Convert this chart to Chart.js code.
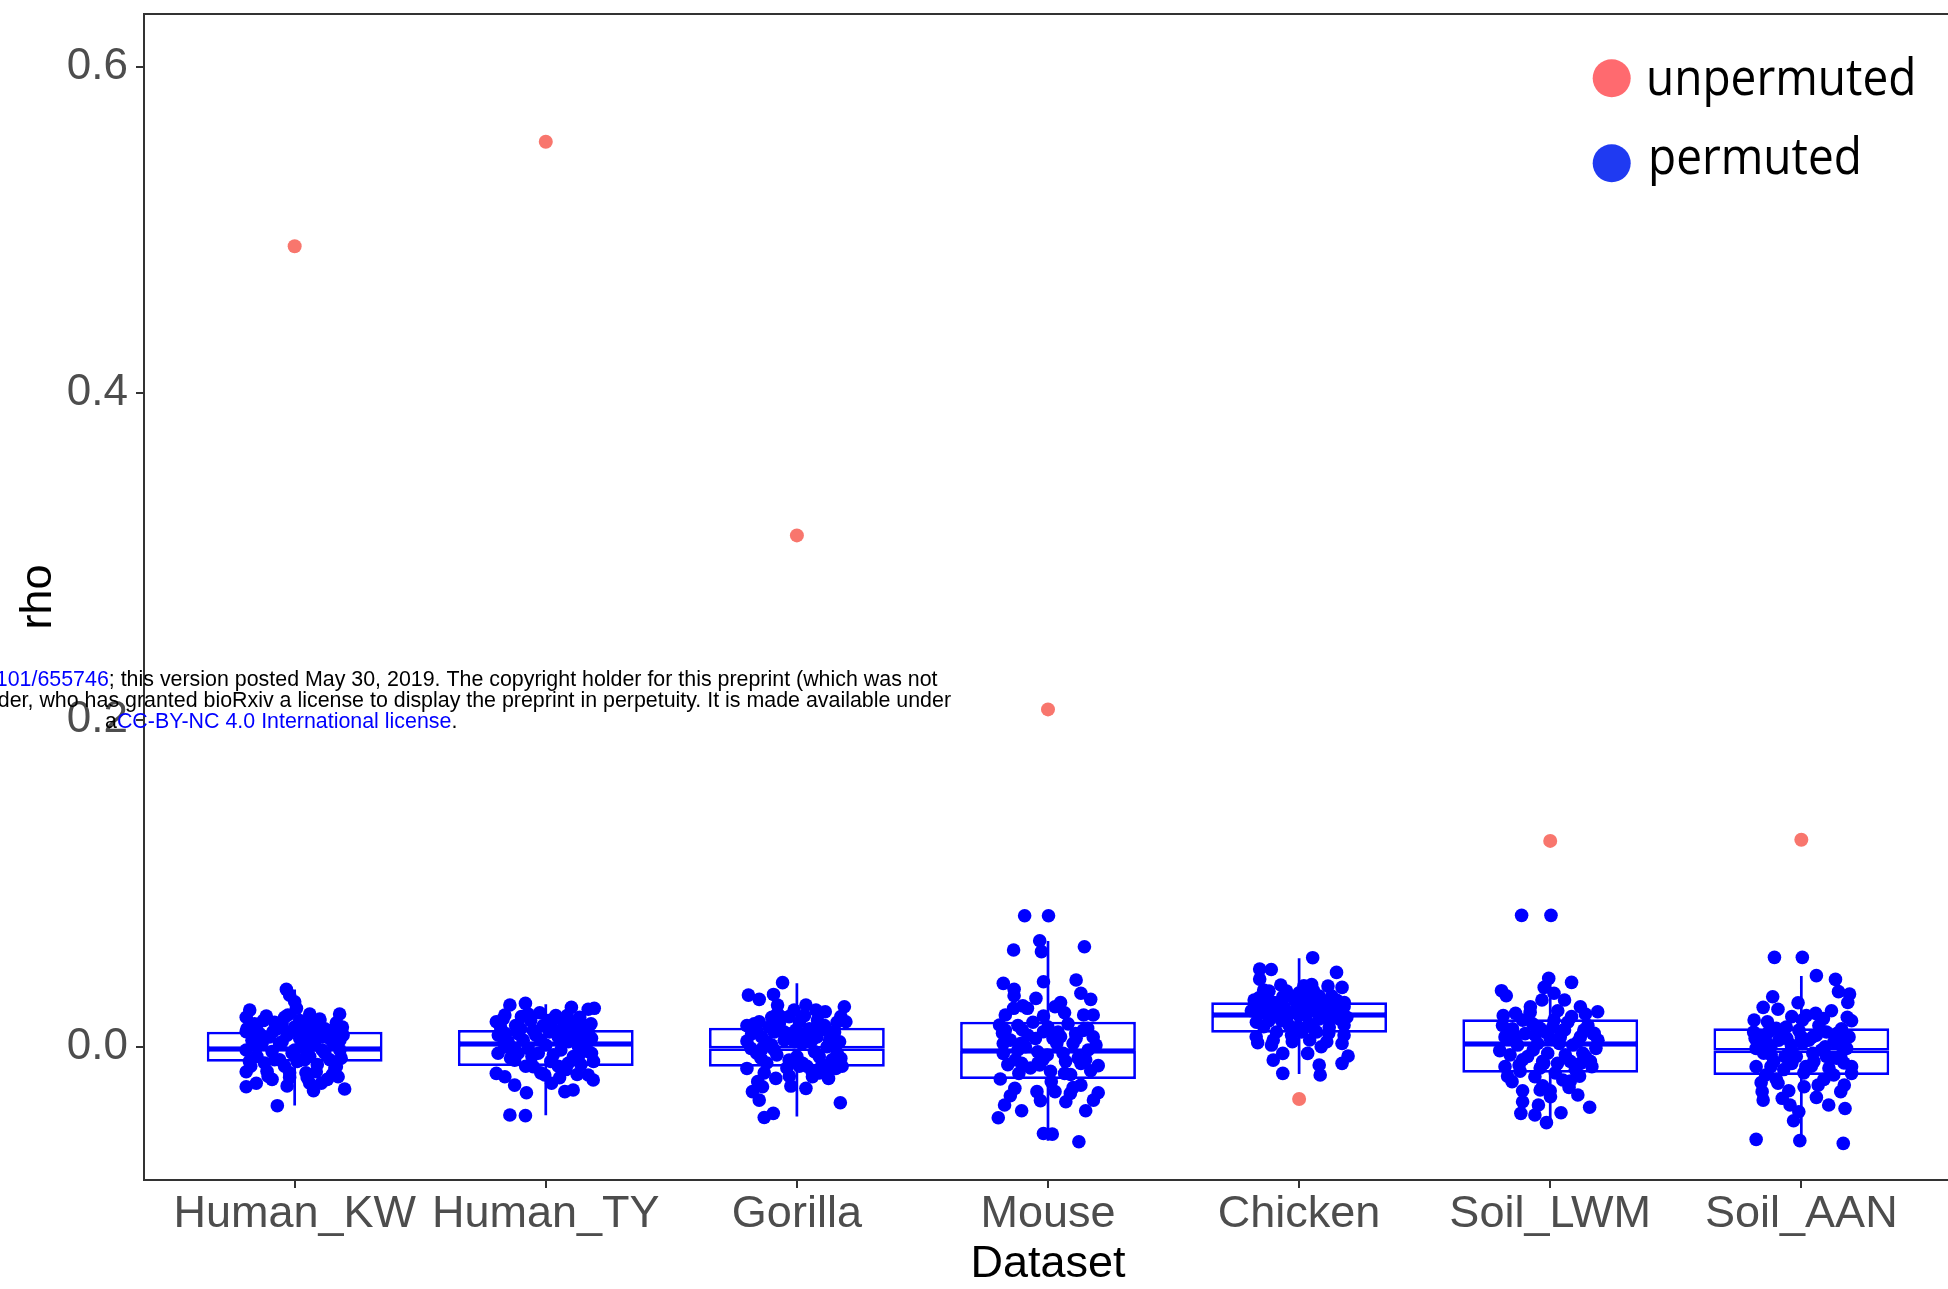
<!DOCTYPE html>
<html>
<head>
<meta charset="utf-8">
<script src="https://cdn.jsdelivr.net/npm/chart.js@4/dist/chart.umd.min.js"></script>
<style>
  html, body { margin: 0; padding: 0; background: #ffffff; overflow: hidden; }
  #rhoChart { display: block; width: 1952px; height: 1289px; }
</style>
</head>
<body>
<canvas id="rhoChart" width="1952" height="1289"></canvas>
<script>
// ---- data ----
const categories = ['Human_KW', 'Human_TY', 'Gorilla', 'Mouse', 'Chicken', 'Soil_LWM', 'Soil_AAN'];
const yTickValues = [0, 0.2, 0.4, 0.6];

// observed (unpermuted) correlation per dataset
const unpermutedRho = [0.490, 0.554, 0.313, 0.2065, -0.032, 0.126, 0.1267];

// box summaries of the permuted correlations
const boxQ1       = [-0.0092, -0.0118, -0.0122, -0.0198, 0.0086, -0.0159, -0.0173];
const boxMedian   = [-0.0014,  0.0017, -0.0010, -0.0026, 0.0194,  0.0017, -0.0024];
const boxQ3       = [ 0.0092,  0.0102,  0.0116,  0.0153, 0.0272,  0.0168,  0.0113];
const whiskerLow  = [-0.0360, -0.0420, -0.0428, -0.0575, -0.0167, -0.0465, -0.0540];
const whiskerHigh = [ 0.0350,  0.0260,  0.0388,  0.0647, 0.0541,  0.0419,  0.0433];

// permuted correlations: [jitter offset, rho]
const permHumanKW = [
  [-0.033,0.0351],[-0.02,0.0316],[0.0,0.0275],[0.007,0.0235],[-0.027,0.0194],[-0.179,0.0224],[-0.193,0.018],
  [-0.113,0.0188],[0.179,0.02],[0.166,0.0147],[0.1,0.016],[0.066,0.0143],[-0.193,0.0092],[-0.153,0.0112],
  [-0.086,0.0092],[0.193,0.0071],[-0.193,-0.002],[-0.193,-0.0153],[-0.193,-0.0245],[-0.153,-0.0224],
  [-0.106,-0.018],[-0.02,-0.0188],[0.06,-0.0224],[0.106,-0.0224],[0.173,-0.0184],[0.199,-0.0259],
  [-0.069,-0.0361],[0.166,-0.0122],[0.086,-0.0153],[0.02,-0.0082],
  [-0.17,0.004],[-0.15,-0.006],[-0.13,0.002],[-0.12,-0.01],[-0.1,0.006],[-0.09,-0.003],[-0.07,0.011],
  [-0.06,-0.008],[-0.05,0.003],[-0.04,-0.012],[-0.03,0.007],[-0.01,-0.004],[0.0,0.012],[0.01,-0.009],
  [0.03,0.004],[0.04,-0.001],[0.05,0.009],[0.06,-0.006],[0.07,0.013],[0.08,0.001],[0.09,-0.011],
  [0.11,0.006],[0.12,-0.004],[0.13,0.01],[0.14,-0.008],[0.15,0.003],[0.16,-0.013],[0.17,0.008],
  [0.18,-0.002],[0.19,0.012],[-0.19,0.011],[-0.18,-0.009],[-0.16,0.014],[-0.11,-0.015],[-0.08,0.015],
  [0.02,0.016],[0.1,0.017],[0.15,-0.017],[-0.02,-0.016],[0.05,-0.019],
  [-0.14,0.008],[-0.05,0.014],[0.035,0.012],[0.12,0.011],[0.185,-0.007],[-0.175,-0.012],[-0.09,-0.02],
  [0.045,-0.016],[0.13,-0.02],[-0.03,-0.024],[0.075,-0.027],[-0.125,0.016],
  [-0.15,0.0],[-0.12,0.006],[-0.08,-0.008],[-0.06,0.002],[-0.02,0.009],[0.0,-0.002],[0.02,0.005],
  [0.04,-0.008],[0.07,0.004],[0.09,0.008],[0.11,-0.002],[0.14,0.005],[0.16,0.009],[-0.17,0.009],
  [0.18,0.004],[-0.04,0.018],[0.06,0.02]
];
const permHumanTY = [
  [-0.143,0.0255],[-0.081,0.0265],[-0.024,0.0208],[0.102,0.0241],[0.169,0.0229],[0.193,0.0235],
  [-0.197,0.0153],[-0.163,0.0194],[-0.097,0.0184],[0.023,0.0122],[0.076,0.0153],[0.142,0.0143],
  [-0.189,0.0071],[-0.11,0.0092],[0.182,0.0051],[-0.163,0.0],[-0.11,-0.004],[0.182,-0.004],
  [-0.124,-0.0082],[-0.197,-0.0163],[-0.163,-0.0184],[-0.124,-0.0235],[-0.077,-0.0282],[-0.05,-0.0122],
  [-0.004,-0.0173],[0.023,-0.0224],[0.076,-0.0275],[0.109,-0.0265],[0.169,-0.0173],[0.189,-0.0204],
  [0.089,-0.0102],[-0.143,-0.0418],[-0.081,-0.0422],
  [-0.18,0.012],[-0.15,0.003],[-0.14,-0.007],[-0.12,0.013],[-0.09,0.004],[-0.08,-0.012],[-0.06,0.016],
  [-0.04,0.007],[-0.03,-0.004],[-0.01,0.013],[0.0,0.001],[0.02,-0.009],[0.03,0.017],[0.05,0.006],
  [0.06,-0.002],[0.07,0.012],[0.08,-0.014],[0.09,0.003],[0.1,0.015],[0.11,-0.006],[0.12,0.009],
  [0.13,0.0],[0.14,-0.011],[0.15,0.011],[0.16,0.004],[0.17,-0.003],[0.18,0.014],[0.19,-0.009],
  [-0.19,-0.004],[-0.17,0.017],[-0.11,0.008],[-0.07,0.02],[-0.02,-0.016],[0.04,0.019],[0.085,0.019],
  [0.125,-0.017],[-0.055,-0.006],[0.015,0.009],[0.055,-0.019],[0.135,0.018],[-0.16,0.008],[-0.125,-0.001],
  [-0.17,0.006],[-0.13,-0.003],[-0.1,0.011],[-0.05,0.01],[-0.02,0.004],[0.01,0.016],[0.03,-0.005],
  [0.06,0.01],[0.09,0.008],[0.12,0.004],[0.15,0.006],[0.17,0.009],[0.13,-0.006],[-0.07,-0.001],[0.05,-0.012]
];
const permGorilla = [
  [-0.057,0.0392],[-0.193,0.0316],[-0.15,0.029],[-0.093,0.032],[-0.077,0.0255],[-0.077,0.0204],
  [-0.011,0.0224],[0.036,0.0255],[0.076,0.0224],[0.113,0.0214],[0.189,0.0245],[0.175,0.0184],
  [0.195,0.0153],[0.082,0.0163],[-0.031,0.0184],[-0.15,0.0153],[-0.199,0.0129],[-0.199,0.0035],
  [-0.183,-0.001],[-0.137,-0.001],[-0.004,0.0102],[0.049,0.0041],[0.129,0.0092],[0.155,0.001],
  [0.175,-0.0071],[0.155,-0.0133],[-0.143,-0.0071],[-0.199,-0.0133],[-0.084,-0.0194],[-0.156,-0.0214],
  [-0.137,-0.0245],[-0.177,-0.0275],[-0.15,-0.0327],[-0.024,-0.0241],[0.036,-0.0255],[0.062,-0.0184],
  [0.126,-0.0194],[0.173,-0.0343],[-0.13,-0.0433],[-0.094,-0.0408],[-0.031,-0.0082],[0.023,-0.0102],
  [0.089,-0.0061],
  [-0.18,0.008],[-0.16,-0.004],[-0.14,0.006],[-0.12,-0.01],[-0.11,0.012],[-0.1,0.001],[-0.08,-0.005],
  [-0.07,0.014],[-0.05,0.004],[-0.04,-0.013],[-0.02,0.008],[0.0,-0.006],[0.01,0.015],[0.02,0.002],
  [0.04,-0.012],[0.05,0.011],[0.07,-0.003],[0.08,0.006],[0.1,-0.011],[0.11,0.013],[0.12,0.0],
  [0.14,-0.008],[0.15,0.009],[0.17,0.003],[0.18,-0.012],[-0.17,0.014],[-0.13,-0.016],[-0.06,0.018],
  [0.03,0.019],[0.09,-0.016],[-0.09,0.009],[0.16,0.015],[0.06,-0.015],
  [-0.16,0.01],[-0.12,0.003],[-0.09,-0.002],[-0.05,0.009],[-0.01,0.003],[0.03,0.007],[0.06,0.004],
  [0.09,0.01],[0.13,0.004],[0.16,-0.004],[0.12,-0.015],[-0.03,-0.018],[0.01,-0.012],[-0.1,0.018]
];
const permMouse = [
  [-0.093,0.0802],[0.002,0.0802],[-0.033,0.0649],[-0.137,0.0592],[0.145,0.0612],[-0.026,0.0582],
  [-0.018,0.0398],[-0.178,0.0388],[-0.135,0.0351],[-0.135,0.0312],[0.112,0.0408],[0.131,0.0327],
  [-0.048,0.0296],[-0.082,0.0235],[-0.137,0.0235],[0.028,0.0245],[0.066,0.0208],[0.142,0.0194],
  [0.18,0.0194],[-0.17,0.0194],[-0.193,0.0133],[-0.018,0.0188],[-0.181,0.0082],[-0.102,0.0102],
  [-0.018,0.0092],[0.05,0.0061],[0.158,0.0112],[-0.178,0.002],[0.112,0.0051],[0.191,0.001],
  [-0.109,0.002],[-0.178,-0.0041],[-0.041,-0.0031],[-0.003,-0.0051],[0.035,0.002],[0.131,-0.0102],
  [0.2,-0.0116],[-0.105,-0.0102],[-0.033,-0.0112],[-0.19,-0.0198],[-0.116,-0.0163],[0.066,-0.0163],
  [0.013,-0.0214],[0.17,-0.0147],[-0.132,-0.0255],[-0.044,-0.0275],[0.028,-0.0275],[0.131,-0.0235],
  [0.089,-0.0286],[0.2,-0.0282],[0.181,-0.0327],[0.071,-0.0337],[0.15,-0.0392],[-0.173,-0.0357],
  [-0.105,-0.0392],[-0.198,-0.0435],[-0.018,-0.0531],[0.017,-0.0535],[0.123,-0.0582],
  [-0.15,0.004],[-0.13,-0.008],[-0.12,0.013],[-0.09,0.0],[-0.07,-0.013],[-0.06,0.015],[-0.05,0.005],
  [-0.02,-0.008],[0.0,0.012],[0.01,-0.015],[0.04,0.009],[0.06,-0.004],[0.08,0.014],[0.09,-0.017],
  [0.1,0.002],[0.12,-0.007],[0.14,0.01],[0.16,-0.002],[0.18,0.006],[-0.16,-0.011],[-0.1,0.025],
  [0.05,0.027],[-0.03,-0.033],[0.1,-0.025],[-0.15,-0.03],[0.17,0.029],
  [-0.12,-0.002],[-0.08,0.007],[-0.04,-0.01],[0.02,0.005],[0.07,-0.009],[0.11,0.008],[0.15,-0.008],[-0.17,0.01]
];
const permChicken = [
  [0.054,0.0545],[-0.157,0.0475],[-0.111,0.0473],[-0.157,0.0414],[0.149,0.0455],[-0.073,0.0378],
  [0.019,0.0373],[0.115,0.0371],[0.171,0.0363],[-0.141,0.0347],[0.057,0.0343],[-0.179,0.0286],
  [-0.065,0.0306],[0.149,0.0286],[0.179,0.0245],[-0.171,0.0235],[-0.095,0.0245],[-0.004,0.0245],
  [0.088,0.0235],[0.027,0.0194],[0.118,0.0184],[-0.126,0.0194],[-0.05,0.0163],[-0.141,0.0122],
  [0.179,0.0133],[-0.004,0.0122],[0.057,0.0112],[0.118,0.0082],[-0.171,0.0061],[0.179,0.0071],
  [-0.103,0.0041],[-0.027,0.0031],[-0.165,0.0024],[0.042,0.0041],[0.171,0.002],[0.088,0.0],
  [0.034,-0.0041],[-0.065,-0.0041],[-0.103,-0.0082],[0.195,-0.0057],[0.171,-0.0102],[0.08,-0.0112],
  [-0.065,-0.0163],[0.084,-0.0173],
  [-0.15,0.021],[-0.12,0.016],[-0.1,0.027],[-0.08,0.02],[-0.06,0.024],[-0.04,0.013],[-0.02,0.029],
  [0.0,0.019],[0.02,0.026],[0.04,0.014],[0.06,0.022],[0.08,0.017],[0.1,0.028],[0.12,0.012],
  [0.14,0.021],[0.16,0.017],[0.18,0.027],[-0.17,0.015],[-0.13,0.031],[-0.09,0.009],[-0.03,0.007],
  [0.03,0.032],[0.07,0.009],[0.13,0.031],[-0.11,0.001],[0.11,0.003],[-0.05,0.034],[0.05,0.038],
  [-0.19,0.022],[0.19,0.018],[0.01,0.009],[-0.07,0.016],[0.09,0.023],
  [-0.14,0.027],[-0.11,0.022],[-0.07,0.028],[-0.04,0.02],[-0.01,0.024],[0.02,0.02],[0.05,0.027],
  [0.08,0.031],[0.11,0.024],[0.15,0.025],[0.17,0.022],[-0.12,0.034],[0.0,0.033],[0.12,0.017],[-0.16,0.03]
];
const permSoilLWM = [
  [-0.114,0.0804],[0.003,0.0804],[-0.006,0.0418],[0.085,0.0394],[-0.194,0.0343],[-0.175,0.0312],
  [-0.024,0.0363],[0.015,0.0327],[0.057,0.0286],[-0.033,0.0286],[-0.079,0.0245],[0.12,0.0245],
  [0.189,0.0214],[-0.187,0.019],[-0.138,0.0204],[-0.11,0.0163],[0.015,0.0163],[0.085,0.0184],
  [-0.04,0.0112],[0.057,0.0102],[0.134,0.0102],[0.175,0.0082],[-0.138,0.0061],[0.182,-0.001],
  [-0.201,-0.0024],[0.036,0.002],[-0.068,-0.002],[-0.18,-0.0122],[-0.124,-0.0112],[-0.026,-0.0102],
  [0.029,-0.0102],[0.12,-0.0102],[0.166,-0.0122],[-0.152,-0.0214],[-0.061,-0.0184],[0.05,-0.0204],
  [0.117,-0.018],[-0.04,-0.0265],[0.001,-0.0306],[0.075,-0.0249],[0.11,-0.0296],[-0.11,-0.0337],
  [-0.047,-0.0357],[0.157,-0.0371],[-0.117,-0.0408],[-0.061,-0.0418],[-0.015,-0.0465],[0.043,-0.0404],
  [-0.18,0.006],[-0.16,-0.005],[-0.15,0.011],[-0.13,0.001],[-0.12,-0.015],[-0.1,0.008],[-0.09,-0.006],
  [-0.07,0.014],[-0.05,0.002],[-0.04,-0.013],[-0.02,0.009],[-0.01,-0.004],[0.01,0.012],[0.02,-0.016],
  [0.04,0.006],[0.06,-0.005],[0.07,0.015],[0.09,0.001],[0.1,-0.014],[0.12,0.006],[0.13,-0.004],
  [0.15,0.013],[0.16,-0.009],[0.19,0.004],[-0.19,0.013],[-0.17,-0.018],[-0.08,0.021],[0.03,0.022],
  [0.08,-0.021],[-0.03,-0.024],[0.14,0.02],[-0.11,-0.027],[0.0,-0.027],
  [-0.14,0.004],[-0.11,-0.008],[-0.06,0.007],[-0.03,-0.009],[0.0,0.005],[0.05,0.01],[0.08,-0.009],
  [0.11,0.003],[0.14,-0.006],[0.17,0.008]
];
const permSoilAAN = [
  [-0.107,0.0547],[0.004,0.0547],[0.06,0.0435],[0.136,0.0412],[0.148,0.0337],[0.192,0.0322],
  [0.185,0.0271],[-0.114,0.0306],[-0.152,0.0241],[-0.093,0.0229],[-0.013,0.0269],[-0.188,0.0163],
  [-0.135,0.0153],[-0.038,0.0184],[0.004,0.0163],[0.057,0.0204],[0.088,0.0173],[0.183,0.018],
  [0.2,0.0159],[-0.1,0.0112],[-0.184,0.0051],[-0.058,0.0051],[0.046,0.0061],[0.143,0.0082],
  [-0.121,0.0],[-0.18,-0.001],[0.004,0.002],[0.095,0.0],[0.157,0.001],[-0.065,-0.0061],
  [0.046,-0.0041],[0.157,-0.0065],[-0.18,-0.0122],[-0.121,-0.0122],[-0.038,-0.0102],[0.018,-0.0122],
  [0.2,-0.0122],[0.129,-0.0173],[0.2,-0.0163],[-0.142,-0.0173],[-0.093,-0.0224],[0.011,-0.0245],
  [0.067,-0.0235],[0.171,-0.0235],[-0.156,-0.0275],[-0.152,-0.0327],[0.157,-0.0275],[-0.076,-0.0316],
  [-0.045,-0.0357],[0.109,-0.0357],[0.174,-0.0378],[-0.01,-0.0398],[-0.031,-0.0453],[-0.18,-0.0567],
  [-0.006,-0.0575],[0.167,-0.0592],
  [-0.17,0.007],[-0.15,-0.004],[-0.13,0.009],[-0.11,-0.009],[-0.09,0.004],[-0.07,-0.014],[-0.06,0.012],
  [-0.04,0.001],[-0.02,-0.006],[-0.01,0.01],[0.01,-0.016],[0.03,0.004],[0.05,-0.009],[0.07,0.013],
  [0.08,-0.002],[0.1,0.009],[0.11,-0.013],[0.13,0.003],[0.14,-0.007],[0.16,0.011],[0.18,-0.001],
  [0.19,0.006],[-0.19,0.009],[-0.1,-0.02],[0.02,0.019],[0.09,-0.02],[-0.05,-0.027],[0.12,0.022],
  [-0.16,-0.022],[0.06,-0.031],
  [-0.14,0.003],[-0.12,-0.005],[-0.08,0.009],[-0.05,-0.004],[0.0,0.006],[0.04,-0.012],[0.06,0.007],
  [0.1,-0.006],[0.15,0.004],[0.17,-0.01]
];
const permutedGroups = [permHumanKW, permHumanTY, permGorilla, permMouse, permChicken, permSoilLWM, permSoilAAN];

// ---- styling ----
const FONT = "'Liberation Sans', Arial, Helvetica, sans-serif";
const BLUE = '#0000FF';
const SALMON = '#F8766D';
const AXIS = '#333333';
const TICK_TEXT = '#4D4D4D';

// ---- datasets built from the arrays ----
const permutedPoints = [];
permutedGroups.forEach((group, i) => {
  group.forEach(([dx, rho]) => permutedPoints.push({ x: i + dx, y: rho }));
});
const unpermutedPoints = unpermutedRho.map((rho, i) => ({ x: i, y: rho }));
const lowerBox = categories.map((_, i) => ({ x: i, y: [boxQ1[i], boxMedian[i]] }));
const upperBox = categories.map((_, i) => ({ x: i, y: [boxMedian[i], boxQ3[i]] }));
const whiskerSegments = [];
categories.forEach((_, i) => {
  whiskerSegments.push({ x: i, y: whiskerLow[i] }, { x: i, y: boxQ1[i] }, { x: i, y: null });
  whiskerSegments.push({ x: i, y: boxQ3[i] }, { x: i, y: whiskerHigh[i] }, { x: i, y: null });
});

// panel outline (top and right edges; left/bottom come from the axis borders)
const panelFrame = {
  id: 'panelFrame',
  afterDatasetsDraw(chart) {
    const { ctx, chartArea: a } = chart;
    ctx.save();
    ctx.strokeStyle = AXIS;
    ctx.lineWidth = 2;
    ctx.beginPath();
    ctx.moveTo(a.left - 1, a.top);
    ctx.lineTo(a.right, a.top);
    ctx.lineTo(a.right, a.bottom);
    ctx.stroke();
    ctx.restore();
  }
};

// key in the upper right corner
const keyPlugin = {
  id: 'keyPlugin',
  afterDraw(chart) {
    const ctx = chart.ctx;
    const items = [
      { label: 'unpermuted', color: '#FF6A6F', cx: 1611.7, cy: 78.3, tx: 1646, ty: 95 },
      { label: 'permuted',   color: '#1F3AF2', cx: 1611.7, cy: 163.3, tx: 1648, ty: 174 }
    ];
    ctx.save();
    items.forEach(it => {
      ctx.fillStyle = it.color;
      ctx.beginPath();
      ctx.arc(it.cx, it.cy, 19, 0, Math.PI * 2);
      ctx.fill();
      ctx.save();
      ctx.translate(it.tx, it.ty);
      ctx.scale(1, 1.12);
      ctx.fillStyle = '#000000';
      ctx.font = "46px 'Open Sans', 'Noto Sans', sans-serif";
      ctx.textAlign = 'left';
      ctx.textBaseline = 'alphabetic';
      ctx.fillText(it.label, 0, 0);
      ctx.restore();
    });
    ctx.restore();
  }
};

// preprint notice printed across the figure
const noticePlugin = {
  id: 'noticePlugin',
  afterDraw(chart) {
    const ctx = chart.ctx;
    ctx.save();
    ctx.font = "21.4px 'Liberation Sans', Arial, sans-serif";
    ctx.textBaseline = 'alphabetic';

    const l1Black = '; this version posted May 30, 2019. The copyright holder for this preprint (which was not';
    const l1Blue = '101/655746';
    ctx.textAlign = 'right';
    ctx.fillStyle = '#000000';
    ctx.fillText(l1Black, 937.5, 686);
    const w1 = ctx.measureText(l1Black).width;
    ctx.fillStyle = '#0000FF';
    ctx.fillText(l1Blue, 937.5 - w1, 686);

    ctx.fillStyle = '#000000';
    ctx.fillText('der, who has granted bioRxiv a license to display the preprint in perpetuity. It is made available under', 951, 707);

    ctx.textAlign = 'left';
    let x = 105;
    ctx.fillText('a', x, 728);
    x += ctx.measureText('a').width;
    ctx.fillStyle = '#0000FF';
    const lic = 'CC-BY-NC 4.0 International license';
    ctx.fillText(lic, x, 728);
    x += ctx.measureText(lic).width;
    ctx.fillStyle = '#000000';
    ctx.fillText('.', x, 728);
    ctx.restore();
  }
};

new Chart(document.getElementById('rhoChart'), {
  type: 'scatter',
  data: {
    datasets: [
      {
        label: 'unpermuted',
        data: unpermutedPoints,
        backgroundColor: SALMON,
        borderWidth: 0,
        pointRadius: 7,
        order: 0
      },
      {
        label: 'permuted',
        data: permutedPoints,
        backgroundColor: BLUE,
        borderWidth: 0,
        pointRadius: 6.8,
        order: 1
      },
      {
        type: 'line',
        label: 'whiskers',
        data: whiskerSegments,
        borderColor: BLUE,
        borderWidth: 2.7,
        pointRadius: 0,
        spanGaps: false,
        fill: false,
        order: 2
      },
      {
        type: 'bar',
        label: 'box upper',
        data: upperBox,
        backgroundColor: '#FFFFFF',
        borderColor: BLUE,
        borderWidth: 2.7,
        borderSkipped: false,
        grouped: false,
        barPercentage: 0.7,
        categoryPercentage: 1,
        order: 3
      },
      {
        type: 'bar',
        label: 'box lower',
        data: lowerBox,
        backgroundColor: '#FFFFFF',
        borderColor: BLUE,
        borderWidth: 2.7,
        borderSkipped: false,
        grouped: false,
        barPercentage: 0.7,
        categoryPercentage: 1,
        order: 3
      }
    ]
  },
  options: {
    responsive: false,
    maintainAspectRatio: false,
    devicePixelRatio: 1,
    animation: false,
    events: [],
    layout: { autoPadding: false, padding: { top: 14, left: 0, right: 0, bottom: 0 } },
    plugins: {
      legend: { display: false },
      tooltip: { enabled: false }
    },
    scales: {
      x: {
        type: 'linear',
        offset: false,
        min: -0.6,
        max: 6.6,
        afterBuildTicks: s => { s.ticks = categories.map((_, i) => ({ value: i })); },
        afterFit: s => { s.height = 109; s.paddingLeft = 0; s.paddingRight = 0; },
        ticks: {
          callback: v => categories[v],
          color: TICK_TEXT,
          font: { family: FONT, size: 45 },
          padding: 0,
          autoSkip: false,
          maxRotation: 0,
          minRotation: 0
        },
        grid: { offset: false, drawOnChartArea: false, tickLength: 8, tickColor: AXIS, lineWidth: 2 },
        border: { display: true, color: AXIS, width: 2 },
        title: {
          display: true,
          text: 'Dataset',
          color: '#000000',
          font: { family: FONT, size: 45, lineHeight: 1.05 },
          padding: { top: 0, bottom: 0.5 }
        }
      },
      y: {
        type: 'linear',
        min: -0.0816,
        max: 0.6322,
        afterBuildTicks: s => { s.ticks = yTickValues.map(v => ({ value: v })); },
        afterFit: s => { s.width = 144; s.paddingTop = 0; s.paddingBottom = 0; },
        ticks: {
          callback: v => v.toFixed(1),
          color: TICK_TEXT,
          font: { family: FONT, size: 44 },
          padding: 8
        },
        grid: { drawOnChartArea: false, tickLength: 8, tickColor: AXIS, lineWidth: 2 },
        border: { display: true, color: AXIS, width: 2 },
        title: {
          display: true,
          text: 'rho',
          color: '#000000',
          font: { family: FONT, size: 45 },
          padding: { top: 12, bottom: 0 }
        }
      }
    }
  },
  plugins: [panelFrame, keyPlugin, noticePlugin]
});
</script>
</body>
</html>
